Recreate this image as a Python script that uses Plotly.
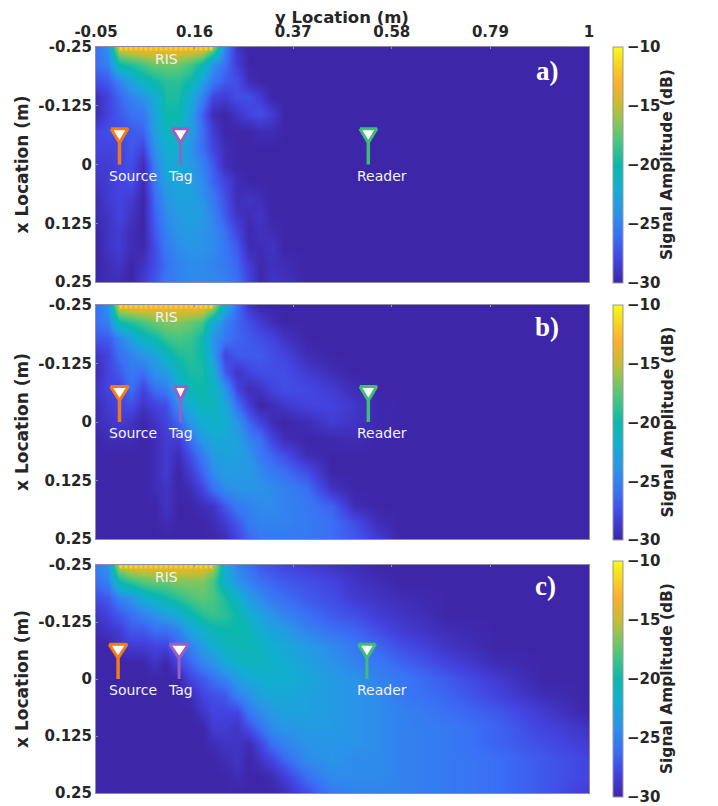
import plotly.graph_objects as go

W, H = 718, 806
PAGE = 8  # browser page inset around the figure
y_cols = [-0.05,-0.025,0,0.025,0.05,0.075,0.1,0.125,0.15,0.175,0.2,0.225,0.25,0.275,0.3,0.325,0.35,0.4,0.45,0.5,0.55,0.6,0.7,0.8,0.9,1.0]
x_rows = [-0.25,-0.2143,-0.1786,-0.1429,-0.1071,-0.0714,-0.0357,0,0.0357,0.0714,0.1071,0.1429,0.1786,0.2143,0.25]
y_ticks = [-0.05,0.16,0.37,0.58,0.79,1]
y_tick_text = ["-0.05","0.16","0.37","0.58","0.79","1"]
x_ticks = [-0.25,-0.125,0,0.125,0.25]
x_tick_text = ["-0.25","-0.125","0","0.125","0.25"]
cb_ticks = [-30,-25,-20,-15,-10]

F = -30  # noise floor shown by the colour scale

panel_a = [
 [-26,-24,-14,-13,-13,-13,-13,-13,-13,-13,-16,-25,-29,F,F,F,F,F,F,F,F,F,F,F,F,F],
 [-26,-25,-20,-19,-18,-17,-17,-17,-18,-20,-24,-26,-28.5,F,F,F,F,F,F,F,F,F,F,F,F,F],
 [-27.5,-27,-25,-23,-21,-20,-19,-19,-20,-23,-25.5,-27,-27.5,-29.5,F,F,F,F,F,F,F,F,F,F,F,F],
 [-29.5,-28,-26.5,-25,-24,-22,-19.5,-19.5,-22,-25,-28,-28.5,-27.5,-27.5,-28.5,F,F,F,F,F,F,F,F,F,F,F],
 [-29.5,-28,-27,-26,-25.5,-23,-20,-20,-23,-26.5,-29.5,F,-29,-28,-27.5,-28.5,F,F,F,F,F,F,F,F,F,F],
 [-28,-27.5,-27.5,-27,-26.5,-23,-21,-21,-23,-26,-28.5,F,F,F,-29.5,-29.5,F,F,F,F,F,F,F,F,F,F],
 [-28,-28,-28,-27,-28,-24,-22,-22,-24,-26,-28,-29.5,F,F,F,F,F,F,F,F,F,F,F,F,F,F],
 [-28.5,-28.5,-28,-27.5,-29.5,-25,-22.5,-22.5,-23.5,-25,-27,-29.5,F,F,F,F,F,F,F,F,F,F,F,F,F,F],
 [-29,-28.5,-28,-27.5,-29.5,-25.5,-23,-22.5,-23,-24.5,-26.5,-28,-29.5,F,F,F,F,F,F,F,F,F,F,F,F,F],
 [-29.5,-28.5,-28,-28.5,F,-26,-24,-23,-23,-24,-25.5,-27.5,-29.5,-29,-29.5,F,F,F,F,F,F,F,F,F,F,F],
 [-29.5,-29,-28,-29,F,-26.5,-24.5,-23.5,-23,-23.5,-25,-27,-29,-29.5,-29,F,F,F,F,F,F,F,F,F,F,F],
 [F,-29,-28.5,-29.5,F,-27,-25,-24,-23.5,-24,-24.5,-26,-28,-29.8,-29.2,-29.5,F,F,F,F,F,F,F,F,F,F],
 [F,-29,-28.5,-29.5,-29.8,-27.5,-25.5,-24.5,-24,-24,-24.5,-25.5,-27,-29.5,-29.5,-29,F,F,F,F,F,F,F,F,F,F],
 [F,-29.5,-29,F,-29,-27.5,-26,-25,-24.5,-24.5,-25,-25.5,-26.5,-28.5,-29.8,-29.3,-29.5,F,F,F,F,F,F,F,F,F],
 [F,-29.5,-29.5,F,-28.5,-27,-25.5,-25,-24.5,-24.5,-24.5,-25,-26,-28,-29.8,-29,-29.2,F,F,F,F,F,F,F,F,F],
]

panel_b = [
 [-26,-24,-14,-13,-13,-13,-13,-13,-13,-13,-15,-22,-26,-29,F,F,F,F,F,F,F,F,F,F,F,F],
 [-26,-25,-20,-19,-18,-17,-16.5,-16.5,-17,-18,-22,-25,-26.5,-27.5,-28.5,-29.5,F,F,F,F,F,F,F,F,F,F],
 [-27,-27,-25,-23,-21,-20,-18.5,-18,-18.5,-20,-24,-25.5,-26.5,-27,-27.5,-28,-29,F,F,F,F,F,F,F,F,F],
 [-29,-28,-26,-25,-24,-23,-21,-19.5,-19,-20,-23.5,-28,-27,-27,-27,-27.5,-28,-29.5,F,F,F,F,F,F,F,F],
 [-29.5,-28,-27,-25.5,-26,-24,-23.5,-21,-19.5,-19.5,-22,-27,-29,-28,-27.5,-27.5,-27.5,-28.5,-29.5,F,F,F,F,F,F,F],
 [-29,-28,-28,-26,-28,-26,-25.5,-22.5,-20.5,-20,-21,-24,-28,-29.5,-29,-28,-27.5,-27.8,-28.5,-29.5,F,F,F,F,F,F],
 [-29.5,-28.5,-28,-27.5,-29,-28,-27.5,-24.5,-22,-20.5,-21,-22.5,-26,-28.5,F,-29.5,-28.8,-28,-28,-28.8,-29.8,F,F,F,F,F],
 [-29.5,-29,-28.5,-29,F,-29,-28,-26.5,-24,-22,-21.5,-22,-24,-26.5,-28,-29.5,F,-29.5,-28.5,-29,-29.8,F,F,F,F,F],
 [F,-29.5,-29.5,-29.5,F,-29.5,-28.5,-28.5,-26,-23.5,-22.5,-22.5,-23,-25,-26,-28,-29.5,F,-29.8,-29.5,F,F,F,F,F,F],
 [F,F,F,F,F,-29.5,-28.5,-29.5,-27.5,-25.5,-23.5,-23,-23,-24,-25.5,-26.5,-27.5,-29.5,F,F,F,F,F,F,F,F],
 [F,F,F,F,F,-29.5,-28.5,F,-28.5,-26.5,-24.5,-23.5,-23.5,-23.5,-24.5,-25.5,-26,-27.5,F,F,F,F,F,F,F,F],
 [F,F,F,F,F,-29.5,-29,F,-29.5,-28,-26,-24.5,-24,-24,-24,-24.5,-25,-26,-29,F,F,F,F,F,F,F],
 [F,F,F,F,F,F,-29,F,F,-29.5,-29,-27,-25.5,-25,-24.5,-24.5,-25,-25.5,-26.5,-29.5,F,F,F,F,F,F],
 [F,F,F,F,F,F,-29.5,F,F,F,-29.5,-28.5,-27,-25.5,-25,-25,-25,-25.5,-26,-27.5,-29.5,F,F,F,F,F],
 [F,F,F,F,F,F,F,F,F,F,F,-29.5,-28,-26.5,-25.5,-25.5,-25.5,-25.5,-26,-27,-28.5,F,F,F,F,F],
]

panel_c = [
 [-25,-24,-15,-13.5,-13.5,-13.5,-13.5,-13.5,-13.5,-13.5,-15,-22,-25,-26,-27,-27.5,-28,-28.5,-29,-29.5,F,F,F,F,F,F],
 [-26,-25,-20,-18.5,-17.5,-17,-17,-16.5,-16.5,-16.5,-18,-22,-24,-25,-26,-26.5,-27,-27.5,-28,-29,-29.5,F,F,F,F,F],
 [-27.5,-27,-25,-24,-22,-21,-20,-19,-18,-17.5,-18,-19.5,-21.5,-23.5,-24.5,-25.5,-26,-27,-27.5,-28.5,-29,-29.5,F,F,F,F],
 [-29,-28,-27,-26,-25,-24,-23,-22,-20.5,-19,-18.5,-19,-20,-22,-23,-24,-25,-26,-27,-27.5,-28.5,-29,F,F,F,F],
 [-29.5,-29,-28.5,-27,-27,-26,-26,-25,-23,-21.5,-20.5,-20,-20,-20.5,-22,-23,-23.5,-25,-26,-26.5,-27.5,-28.5,-29.5,F,F,F],
 [F,F,-29,-28.5,-28.5,-28,-28,-26.5,-25,-23.5,-22,-21,-20.5,-20.5,-21,-22,-22.5,-23.5,-24.5,-25.5,-26.5,-27.5,-29,F,F,F],
 [F,F,F,F,F,-29,F,-28,-26.5,-25,-24,-22.5,-21.5,-21,-21,-21.5,-22,-23,-24,-25,-25.5,-26.5,-28,-29.5,F,F],
 [F,F,F,F,F,F,F,F,-28,-27,-26,-25,-23.5,-22.5,-22,-22,-22,-22.5,-23.5,-24,-25,-25.5,-27,-28.5,F,F],
 [F,F,F,F,F,F,F,F,-29.5,-28,-27.5,-27,-25,-24,-23,-22.5,-22.5,-23,-23.5,-24,-24.5,-25.5,-26.5,-28,-29.5,F],
 [F,F,F,F,F,F,F,F,F,-29,-28,-28,-28,-25.5,-24.5,-23.5,-23,-23,-23.5,-24,-24.5,-25,-26,-27,-28.5,F],
 [F,F,F,F,F,F,F,F,F,F,-28.5,-28.5,-29,-27.5,-26,-24.5,-24,-23.5,-23.5,-24,-24.5,-25,-25.5,-26.5,-28,-29],
 [F,F,F,F,F,F,F,F,F,F,-29.5,-29,-29,-29.5,-28,-26,-25,-24,-24,-24,-24.5,-25,-25.5,-26.5,-27.5,-28.5],
 [F,F,F,F,F,F,F,F,F,F,F,-29.5,-29,F,-29,-28,-26.5,-24.5,-24,-24.5,-24.5,-25,-25.5,-26,-27,-28],
 [F,F,F,F,F,F,F,F,F,F,F,F,-29.5,F,F,-29.5,-28.5,-26,-24.5,-24.5,-24.5,-25,-25.5,-26,-27,-28],
 [F,F,F,F,F,F,F,F,F,F,F,F,F,F,F,F,-29.5,-27.5,-25.5,-25,-25,-25,-25.5,-26,-27,-28.5],
]

colorscale = [[0,"#3e26a8"],[0.1,"#4343e0"],[0.2,"#3a70f5"],[0.3,"#2a94e8"],[0.4,"#12aed0"],[0.5,"#0cb8ac"],
              [0.6,"#48c680"],[0.7,"#98c450"],[0.75,"#c8bc30"],[0.85,"#fbb030"],[0.93,"#f6d820"],[1,"#f9fb15"]]

# plot area in screen pixels; the paper coordinates below are relative to it
L, R, T, B = 96, 589, 47, 800
def fx(px): return (px - L) / (R - L)
def fy(py): return 1 - (py - T) / (B - T)

panels = [
 dict(z=panel_a, top=47, bot=282, cb_top=47, cb_bot=283, label="a)", lx=547, ly=71, ia=""),
 dict(z=panel_b, top=305, bot=539, cb_top=305, cb_bot=540, label="b)", lx=547, ly=327, ia="2"),
 dict(z=panel_c, top=565, bot=793, cb_top=561, cb_bot=797, label="c)", lx=545, ly=586, ia="3"),
]

names = ["Source", "Tag", "Reader"]
ant_y = [[0.0, 0.13, 0.53], [0.0, 0.13, 0.53], [-0.003, 0.127, 0.527]]
ant_colors = ["#f47a14", "#9a5fc0", "#3fbc78"]
stem_widths = [[3.5, 2.5, 3.5], [3.5, 2.5, 3.5], [3.5, 3, 3]]
tri_half = [[0.018, 0.018, 0.018], [0.019, 0.014, 0.018], [0.019, 0.02, 0.018]]
tri_top = -0.076
tri_apex = -0.046
stem_bot = 0.0
caption_x = 0.024
caption_y = [0.028, 0.13, 0.56]
ris_y = [0.0, 0.2]
ris_caption = (0.1, -0.224)

fig = go.Figure()
annotations = []
cap_font = dict(family="DejaVu Sans", size=14, color="#f2f2fa")
for i, p in enumerate(panels):
    xa, ya = "x" + p["ia"], "y" + p["ia"]
    fig.add_trace(go.Heatmap(x=y_cols, y=x_rows, z=p["z"], zmin=-30, zmax=-10, zsmooth="best",
        colorscale=colorscale, xaxis=xa, yaxis=ya, hoverinfo="skip",
        colorbar=dict(x=fx(613), xanchor="left", xpad=0, ypad=0, thickness=10, thicknessmode="pixels",
            y=fy(p["cb_bot"]), yanchor="bottom", len=(p["cb_bot"]-p["cb_top"])/(B-T), lenmode="fraction",
            tickvals=cb_ticks, ticks="", outlinecolor="#9a9a9a", outlinewidth=1, ticklabeloverflow="allow",
            tickfont=dict(family="DejaVu Sans", size=15, color="#262626", weight="bold"))))
    annotations.append(dict(x=fx(667), y=fy((p["cb_top"]+p["cb_bot"])/2), xref="paper", yref="paper",
        text="<b>Signal Amplitude (dB)</b>", textangle=-90, showarrow=False, xanchor="center", yanchor="middle",
        font=dict(family="DejaVu Sans", size=15.4, color="#262626")))
    fig.add_trace(go.Scatter(x=ris_y, y=[-0.25, -0.25], mode="lines", xaxis=xa, yaxis=ya, hoverinfo="skip",
        line=dict(color="#f8d020", width=7, dash="3px,2px"), showlegend=False))
    for j, nm in enumerate(names):
        yc, hw = ant_y[i][j], tri_half[i][j]
        fig.add_trace(go.Scatter(x=[yc, yc], y=[tri_apex, stem_bot], mode="lines", xaxis=xa, yaxis=ya,
            hoverinfo="skip", line=dict(color=ant_colors[j], width=stem_widths[i][j]), showlegend=False))
        fig.add_trace(go.Scatter(x=[yc-hw, yc+hw, yc, yc-hw], y=[tri_top, tri_top, tri_apex, tri_top],
            mode="lines", fill="toself", fillcolor="white", xaxis=xa, yaxis=ya, hoverinfo="skip",
            line=dict(color=ant_colors[j], width=3), showlegend=False))
        annotations.append(dict(x=caption_y[j], y=caption_x, xref=xa, yref=ya, text=nm, showarrow=False, font=cap_font))
    annotations.append(dict(x=ris_caption[0], y=ris_caption[1], xref=xa, yref=ya, text="RIS", showarrow=False, font=cap_font))
    annotations.append(dict(x=fx(p["lx"]), y=fy(p["ly"]), xref="paper", yref="paper", text=f"<b>{p['label']}</b>",
        showarrow=False, xanchor="center", yanchor="middle", font=dict(family="Liberation Serif", size=27, color="white")))

annotations.append(dict(x=fx(342), y=fy(17), xref="paper", yref="paper", text="<b>y Location (m)</b>", showarrow=False,
    xanchor="center", yanchor="middle", font=dict(family="DejaVu Sans", size=16.5, color="#262626")))

axis_line = "#8c8ca8"
tick_font = dict(family="DejaVu Sans", size=15, color="#262626", weight="bold")
title_font = dict(family="DejaVu Sans", size=17, color="#262626", weight="bold")
layout = dict(width=W-PAGE, height=H-PAGE, margin=dict(l=L-PAGE, r=W-R, t=T-PAGE, b=H-B, autoexpand=False),
              paper_bgcolor="white", plot_bgcolor="#3e26a8", showlegend=False, annotations=annotations)
for i, p in enumerate(panels):
    dom_y = [fy(p["bot"]), fy(p["top"])]
    xk, yk = "xaxis"+p["ia"], "yaxis"+p["ia"]
    xa = dict(domain=[0, 1], range=[-0.05, 1], anchor="y"+p["ia"], side="top", tickvals=y_ticks,
              ticks="inside", ticklen=2, tickcolor=axis_line, showgrid=False, zeroline=False, showline=True, mirror=True,
              linecolor=axis_line, linewidth=1, tickfont=tick_font)
    if i == 0:
        xa.update(ticktext=y_tick_text, tickmode="array", ticklabelstandoff=3)
    else:
        xa.update(showticklabels=False)
    ya = dict(domain=dom_y, range=[0.25, -0.25], anchor="x"+p["ia"], tickvals=x_ticks, ticktext=x_tick_text,
              tickmode="array", ticks="inside", ticklen=2, tickcolor=axis_line, showgrid=False, zeroline=False,
              showline=True, mirror=True, linecolor=axis_line, linewidth=1, tickfont=tick_font,
              title=dict(text="x Location (m)", font=title_font, standoff=5))
    layout[xk] = xa
    layout[yk] = ya
fig.update_layout(**layout)
fig.write_html("out.html")
